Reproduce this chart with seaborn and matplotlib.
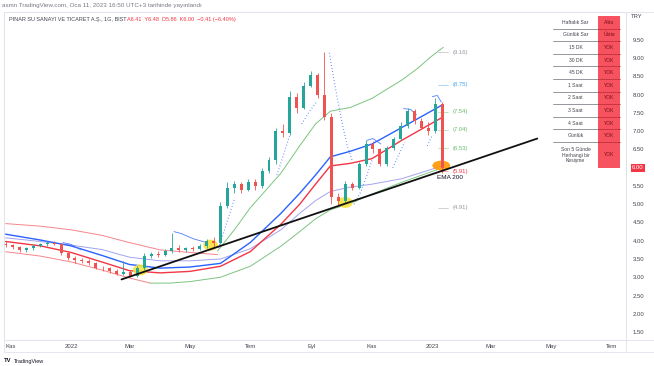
import numpy as np
import pandas as pd
import matplotlib
matplotlib.use("Agg")
import matplotlib.pyplot as plt
import matplotlib.dates as mdates
from matplotlib.patches import Ellipse, Rectangle
from matplotlib.lines import Line2D
import seaborn as sns

# ---------------- data ----------------
candle_start = "2021-10-27"   # weekly candles, 7 days apart
candle_open = [3.92, 3.88, 3.82, 3.74, 3.80, 3.86, 3.90, 3.94, 3.92, 3.66, 3.52, 3.46, 3.44, 3.38, 3.26, 3.24,
               3.16, 3.10, 3.14, 3.04, 3.24, 3.58, 3.64, 3.62, 3.72, 3.80, 3.76, 3.80, 3.78, 3.86, 3.98, 3.94,
               4.95, 5.45, 5.55, 5.40, 5.62, 5.50, 5.92, 6.20, 7.00, 6.95, 7.95, 7.65, 8.25, 8.55, 8.00, 7.40,
               5.20, 5.08, 5.55, 5.45, 6.10, 6.65, 6.50, 6.10, 6.55, 6.80, 7.15, 7.55, 7.28, 7.10, 7.00, 7.75]
candle_high = [3.98, 3.92, 3.86, 3.84, 3.90, 3.94, 3.98, 4.00, 3.95, 3.70, 3.58, 3.52, 3.50, 3.42, 3.32, 3.28,
               3.22, 3.45, 3.20, 3.30, 3.66, 3.70, 3.72, 3.78, 4.20, 3.88, 3.84, 3.86, 3.92, 4.06, 4.10, 5.05,
               5.60, 5.65, 5.62, 5.70, 5.70, 6.00, 6.30, 7.10, 7.20, 8.10, 8.05, 8.35, 8.65, 8.60, 9.17, 7.50,
               5.30, 5.65, 5.62, 6.15, 6.75, 6.72, 6.55, 6.60, 6.85, 7.25, 7.65, 7.60, 7.35, 7.25, 7.90, 7.80]
candle_low = [3.84, 3.78, 3.70, 3.70, 3.76, 3.82, 3.86, 3.88, 3.60, 3.48, 3.40, 3.38, 3.34, 3.22, 3.18, 3.12,
              3.06, 3.06, 3.00, 3.00, 3.20, 3.52, 3.56, 3.58, 3.66, 3.70, 3.68, 3.72, 3.74, 3.80, 3.84, 3.90,
              4.90, 5.30, 5.30, 5.36, 5.40, 5.45, 5.85, 6.10, 6.85, 6.90, 7.50, 7.60, 8.20, 7.90, 7.30, 5.00,
              4.98, 5.04, 5.38, 5.42, 6.05, 6.40, 6.05, 6.05, 6.50, 6.75, 7.10, 7.20, 7.05, 6.90, 6.95, 5.86]
candle_close = [3.88, 3.82, 3.74, 3.80, 3.86, 3.90, 3.94, 3.92, 3.66, 3.52, 3.46, 3.44, 3.38, 3.26, 3.24, 3.16,
                3.10, 3.14, 3.04, 3.24, 3.58, 3.64, 3.62, 3.72, 3.80, 3.76, 3.80, 3.78, 3.86, 3.98, 3.94, 4.95,
                5.45, 5.55, 5.40, 5.62, 5.50, 5.92, 6.20, 7.00, 6.95, 7.95, 7.65, 8.25, 8.55, 8.00, 7.40, 5.20,
                5.08, 5.55, 5.45, 6.10, 6.65, 6.50, 6.10, 6.55, 6.80, 7.15, 7.55, 7.28, 7.10, 7.00, 7.75, 6.00]

ma_dates = ["2021-10-27", "2021-12-01", "2022-01-01", "2022-02-01", "2022-03-01", "2022-04-01", "2022-05-01",
            "2022-06-01", "2022-07-01", "2022-08-01", "2022-08-20", "2022-09-05", "2022-09-20", "2022-10-10",
            "2022-11-01", "2022-12-01", "2023-01-11"]
ema_blue = [4.18, 4.02, 3.86, 3.60, 3.35, 3.25, 3.28, 3.38, 3.95, 4.75, 5.30, 5.80, 6.30, 6.45, 6.65, 7.10, 7.72]
ema_red = [3.98, 3.86, 3.68, 3.42, 3.18, 3.12, 3.16, 3.30, 3.70, 4.45, 5.00, 5.55, 6.05, 6.12, 6.25, 6.75, 7.38]
ema_200 = [4.08, 3.98, 3.88, 3.76, 3.55, 3.45, 3.45, 3.50, 3.78, 4.30, 4.75, 5.10, 5.35, 5.47, 5.55, 5.70, 6.05]

upper_red_dates = ["2021-10-27", "2021-12-01", "2022-01-01", "2022-02-01", "2022-03-01", "2022-04-01",
                   "2022-05-01", "2022-05-29"]
upper_red = [4.47, 4.40, 4.30, 4.15, 3.95, 3.75, 3.68, 3.62]
upper_green_dates = ["2022-05-29", "2022-06-15", "2022-07-01", "2022-08-01", "2022-08-20", "2022-09-05",
                     "2022-09-20", "2022-10-10", "2022-11-01", "2022-12-01", "2022-12-17", "2022-12-31",
                     "2023-01-12"]
upper_green = [3.72, 4.30, 4.90, 5.85, 6.60, 7.20, 7.55, 7.65, 7.90, 8.40, 8.72, 9.05, 9.30]
lower_red_dates = ["2021-10-27", "2021-12-01", "2022-01-01", "2022-02-01", "2022-03-01", "2022-03-22"]
lower_red = [3.70, 3.58, 3.42, 3.20, 2.98, 2.84]
lower_green_dates = ["2022-03-22", "2022-04-11", "2022-05-01", "2022-06-01", "2022-07-01", "2022-08-01",
                     "2022-08-20", "2022-09-05", "2022-09-20", "2022-10-10", "2022-11-01", "2022-12-01",
                     "2023-01-06"]
lower_green = [2.84, 2.84, 2.88, 3.00, 3.30, 3.85, 4.25, 4.60, 4.85, 5.02, 5.28, 5.60, 5.95]

trend_dates = ["2022-02-21", "2023-04-17"]
trend_prices = [2.94, 6.80]

sar_dates = ["2022-05-30", "2022-06-05", "2022-06-11", "2022-06-15", None,
             "2022-07-28", "2022-08-03", "2022-08-10", None,
             "2022-08-22", "2022-08-30", "2022-09-06", None,
             "2022-09-19", "2022-09-23", "2022-09-27", "2022-10-02", "2022-10-07", "2022-10-12", None,
             "2022-10-14", "2022-10-20", "2022-10-27", "2022-11-01", None,
             "2022-11-22", "2022-11-28", "2022-12-04", None,
             "2022-12-27", "2023-01-01"]
sar_values = [3.80, 4.30, 4.80, 5.15, None,
              5.80, 6.30, 6.90, None,
              7.20, 7.55, 7.80, None,
              9.15, 8.50, 7.90, 7.20, 6.60, 6.20, None,
              5.00, 5.30, 5.80, 6.20, None,
              6.00, 6.35, 6.70, None,
              6.60, 6.90]

arc_dates = ["2021-12-24", "2022-01-01", "2022-01-11", None,
             "2022-04-15", "2022-04-22", "2022-05-05", "2022-05-18", None,
             "2022-10-27", "2022-11-02", "2022-11-10", None,
             "2022-12-03", "2022-12-10", "2022-12-16", None,
             "2023-01-01", "2023-01-06", "2023-01-10"]
arc_values = [3.95, 3.90, 3.75, None,
              4.25, 4.20, 4.05, 3.95, None,
              6.75, 6.80, 6.65, None,
              7.62, 7.60, 7.45, None,
              7.95, 7.98, 7.80]

highlight_dates = ["2022-03-12", "2022-05-22", "2022-10-05"]
highlight_prices = [3.20, 3.88, 5.05]
signal_date = "2023-01-10"
signal_price = 6.06

level_values = [9.16, 8.27, 7.54, 7.04, 6.53, 5.91, 4.91]
level_labels = ["(9.16)", "(8.75)", "(7.54)", "(7.04)", "(6.53)", "(5.91)", "(4.91)"]
level_colors = ["#9598a1", "#42a5f5", "#66bb6a", "#66bb6a", "#66bb6a", "#f23645", "#9598a1"]

table_rows = ["Haftalık Sar", "Günlük Sar", "15 DK", "30 DK", "45 DK", "1 Saat", "2 Saat", "3 Saat",
              "4 Saat", "Günlük", "Son 5 Günde\nHerhangi bir\nKesişme"]
table_values = ["Altta", "Üstte", "YOK", "YOK", "YOK", "YOK", "YOK", "YOK", "YOK", "YOK", "YOK"]

y_ticks = [1.5, 2.0, 2.5, 3.0, 3.5, 4.0, 4.5, 5.0, 5.5, 6.0, 6.5, 7.0, 7.5, 8.0, 8.5, 9.0, 9.5]
x_tick_dates = ["2021-11-01", "2022-01-01", "2022-03-01", "2022-05-01", "2022-07-01", "2022-09-01",
                "2022-11-01", "2023-01-01", "2023-03-01", "2023-05-01", "2023-07-01"]
x_tick_labels = ["Kas", "2022", "Mar", "May", "Tem", "Eyl", "Kas", "2023", "Mar", "May", "Tem"]

last_price = 6.00
header = "asmn TradingView.com, Oca 11, 2023 16:50 UTC+3 tarihinde yayınlandı"
title_name = "PINAR SU SANAYI VE TICARET A.Ş., 1G, BIST"
title_vals = "A6.41  Y6.48  D5.86  K6.00  −0.41 (−6.40%)"

# ---------------- helpers ----------------
def dnum(lst):
    return np.array([mdates.date2num(pd.Timestamp(d)) if d is not None else np.nan for d in lst])

def vnum(lst):
    return np.array([v if v is not None else np.nan for v in lst], dtype=float)

# ---------------- figure ----------------
sns.set_style("white")
plt.rcParams['font.family'] = ['Liberation Sans', 'DejaVu Sans']

W, H = 654, 366
fig = plt.figure(figsize=(W / 100, H / 100), dpi=100)
fig.patch.set_facecolor("white")

L, R, T, B = 4, 626, 12, 340
ax = fig.add_axes([L / W, 1 - B / H, (R - L) / W, (B - T) / H])

x0 = mdates.date2num(pd.Timestamp("2022-01-01"))
px_per_day = 0.99
ax.set_xlim(x0 + (L - 71) / px_per_day, x0 + (R - 71) / px_per_day)
ax.set_ylim(9.5 - (B - 40) / 36.5, 9.5 + (40 - T) / 36.5)

# bands and moving averages
d_ma = dnum(ma_dates)
sns.lineplot(x=dnum(upper_red_dates), y=upper_red, ax=ax, color="#f7858a", lw=0.7, estimator=None, sort=False)
sns.lineplot(x=dnum(upper_green_dates), y=upper_green, ax=ax, color="#7cc47f", lw=0.7, estimator=None, sort=False)
sns.lineplot(x=dnum(lower_red_dates), y=lower_red, ax=ax, color="#f7858a", lw=0.7, estimator=None, sort=False)
sns.lineplot(x=dnum(lower_green_dates), y=lower_green, ax=ax, color="#7cc47f", lw=0.7, estimator=None, sort=False)
sns.lineplot(x=d_ma, y=ema_200, ax=ax, color="#a3a3f0", lw=0.7, estimator=None, sort=False)
sns.lineplot(x=d_ma, y=ema_red, ax=ax, color="#f23645", lw=1.0, estimator=None, sort=False)
sns.lineplot(x=d_ma, y=ema_blue, ax=ax, color="#2962ff", lw=1.0, estimator=None, sort=False)

# parabolic sar (dotted) and arcs
ax.plot(dnum(sar_dates), vnum(sar_values), color="#2962ff", lw=0.8, ls=(0, (0.6, 2.2)), zorder=3)
ax.plot(dnum(arc_dates), vnum(arc_values), color="#4f7cff", lw=0.6, zorder=3)

# highlights
for d, p in zip(dnum(highlight_dates), highlight_prices):
    ax.add_patch(Ellipse((d, p), 15, 0.30, color="#f7e23e", alpha=0.9, zorder=4, lw=0))
ax.add_patch(Ellipse((dnum([signal_date])[0], signal_price), 18, 0.27, color="#ff9800", alpha=0.9, zorder=4, lw=0))

# candles
cd = mdates.date2num(pd.date_range(candle_start, periods=len(candle_close), freq="7D"))
o = np.array(candle_open); c = np.array(candle_close)
h = np.array(candle_high); lo = np.array(candle_low)
cols = np.where(c >= o, "#26a69a", "#ef5350")
ax.vlines(cd, lo, h, colors=cols, lw=0.6, zorder=5)
ax.bar(cd, np.maximum(np.abs(c - o), 0.025), bottom=np.minimum(o, c), width=3.0, color=cols, lw=0, zorder=5)

# trend line
sns.lineplot(x=dnum(trend_dates), y=trend_prices, ax=ax, color="#111111", lw=1.3, estimator=None, sort=False)
for ln in ax.lines[-1:]:
    ln.set_zorder(6)

# level labels
lvl_x0 = mdates.date2num(pd.Timestamp("2023-01-07"))
lvl_x1 = mdates.date2num(pd.Timestamp("2023-01-17"))
lvl_tx = mdates.date2num(pd.Timestamp("2023-01-21"))
for v, t, col in zip(level_values, level_labels, level_colors):
    ax.plot([lvl_x0, lvl_x1], [v, v], color=col, lw=0.5, alpha=0.6)
    ax.text(lvl_tx, v, t, color=col, fontsize=4.2, va="center", ha="left")
ax.text(mdates.date2num(pd.Timestamp("2023-01-06")), 5.74, "EMA 200", color="#131722", fontsize=4.6,
        va="center", ha="left", zorder=7)

# axes styling
ax.yaxis.tick_right()
ax.set_yticks(y_ticks)
ax.set_yticklabels(["" if abs(v - last_price) < 1e-9 else f"{v:.2f}" for v in y_ticks])
ax.set_xticks(dnum(x_tick_dates))
ax.set_xticklabels(x_tick_labels)
ax.tick_params(axis="y", length=0, pad=5, labelsize=4.3, colors="#434651")
ax.tick_params(axis="x", length=0, pad=3, labelsize=4.3, colors="#434651")
for s in ax.spines.values():
    s.set_color("#e0e3eb"); s.set_linewidth(0.6)
ax.grid(False)
ax.set_xlabel(""); ax.set_ylabel("")

# last price tag
ax.text(1 + 12 / (R - L), last_price, f"{last_price:.2f}", transform=ax.get_yaxis_transform(),
        fontsize=4.3, color="white", va="center", ha="center",
        bbox=dict(boxstyle="square,pad=0.25", fc="#f23645", ec="none"), clip_on=False)

# figure frame lines
def fx(x): return x / W
def fy(y): return 1 - y / H
for (xa, ya, xb, yb) in [(L, T, W, T), (L, T, L, 352), (L, 352, W, 352), (R, T, R, 352), (L, B, W, B)]:
    fig.add_artist(Line2D([fx(xa), fx(xb)], [fy(ya), fy(yb)], color="#e0e3eb", lw=0.6))

fig.text(fx(637), fy(17), "TRY", fontsize=4.2, color="#434651", ha="center", va="center")

# header texts
fig.text(fx(2), fy(6), header, fontsize=4.5, color="#787b86", ha="left", va="center")
fig.text(fx(9), fy(19), title_name, fontsize=4.0, color="#434651", ha="left", va="center")
fig.text(fx(127), fy(19), title_vals, fontsize=4.0, color="#f23645", ha="left", va="center")

# table
tl, tm, tr = 553, 598, 620
row_edges = [16, 28.6, 41.2, 53.8, 66.4, 79.0, 91.6, 104.2, 116.8, 129.4, 142.0, 168.0]
fig.add_artist(Rectangle((fx(tm), fy(row_edges[-1])), (tr - tm) / W, (row_edges[-1] - row_edges[0]) / H,
                         transform=fig.transFigure, fc="#f7525f", ec="none"))
for i, (lab, val) in enumerate(zip(table_rows, table_values)):
    yc = (row_edges[i] + row_edges[i + 1]) / 2
    fig.text(fx((tl + tm) / 2), fy(yc), lab, fontsize=3.6, color="#434651", ha="center", va="center",
             linespacing=1.1)
    fig.text(fx((tm + tr) / 2), fy(yc), val, fontsize=3.6, color="#7a1017", ha="center", va="center")
    if i > 0:
        fig.add_artist(Line2D([fx(tl), fx(tm)], [fy(row_edges[i]), fy(row_edges[i])], color="#6a6d78", lw=0.5))
        fig.add_artist(Line2D([fx(tm), fx(tr)], [fy(row_edges[i]), fy(row_edges[i])], color="#b52b35", lw=0.5))

# footer logo
fig.text(fx(4), fy(361), "TV", fontsize=4.2, color="#131722", ha="left", va="center", fontweight="bold")
fig.text(fx(14), fy(361), "TradingView", fontsize=4.0, color="#131722", ha="left", va="center")

fig.savefig("out.png", dpi=100, facecolor="white")
